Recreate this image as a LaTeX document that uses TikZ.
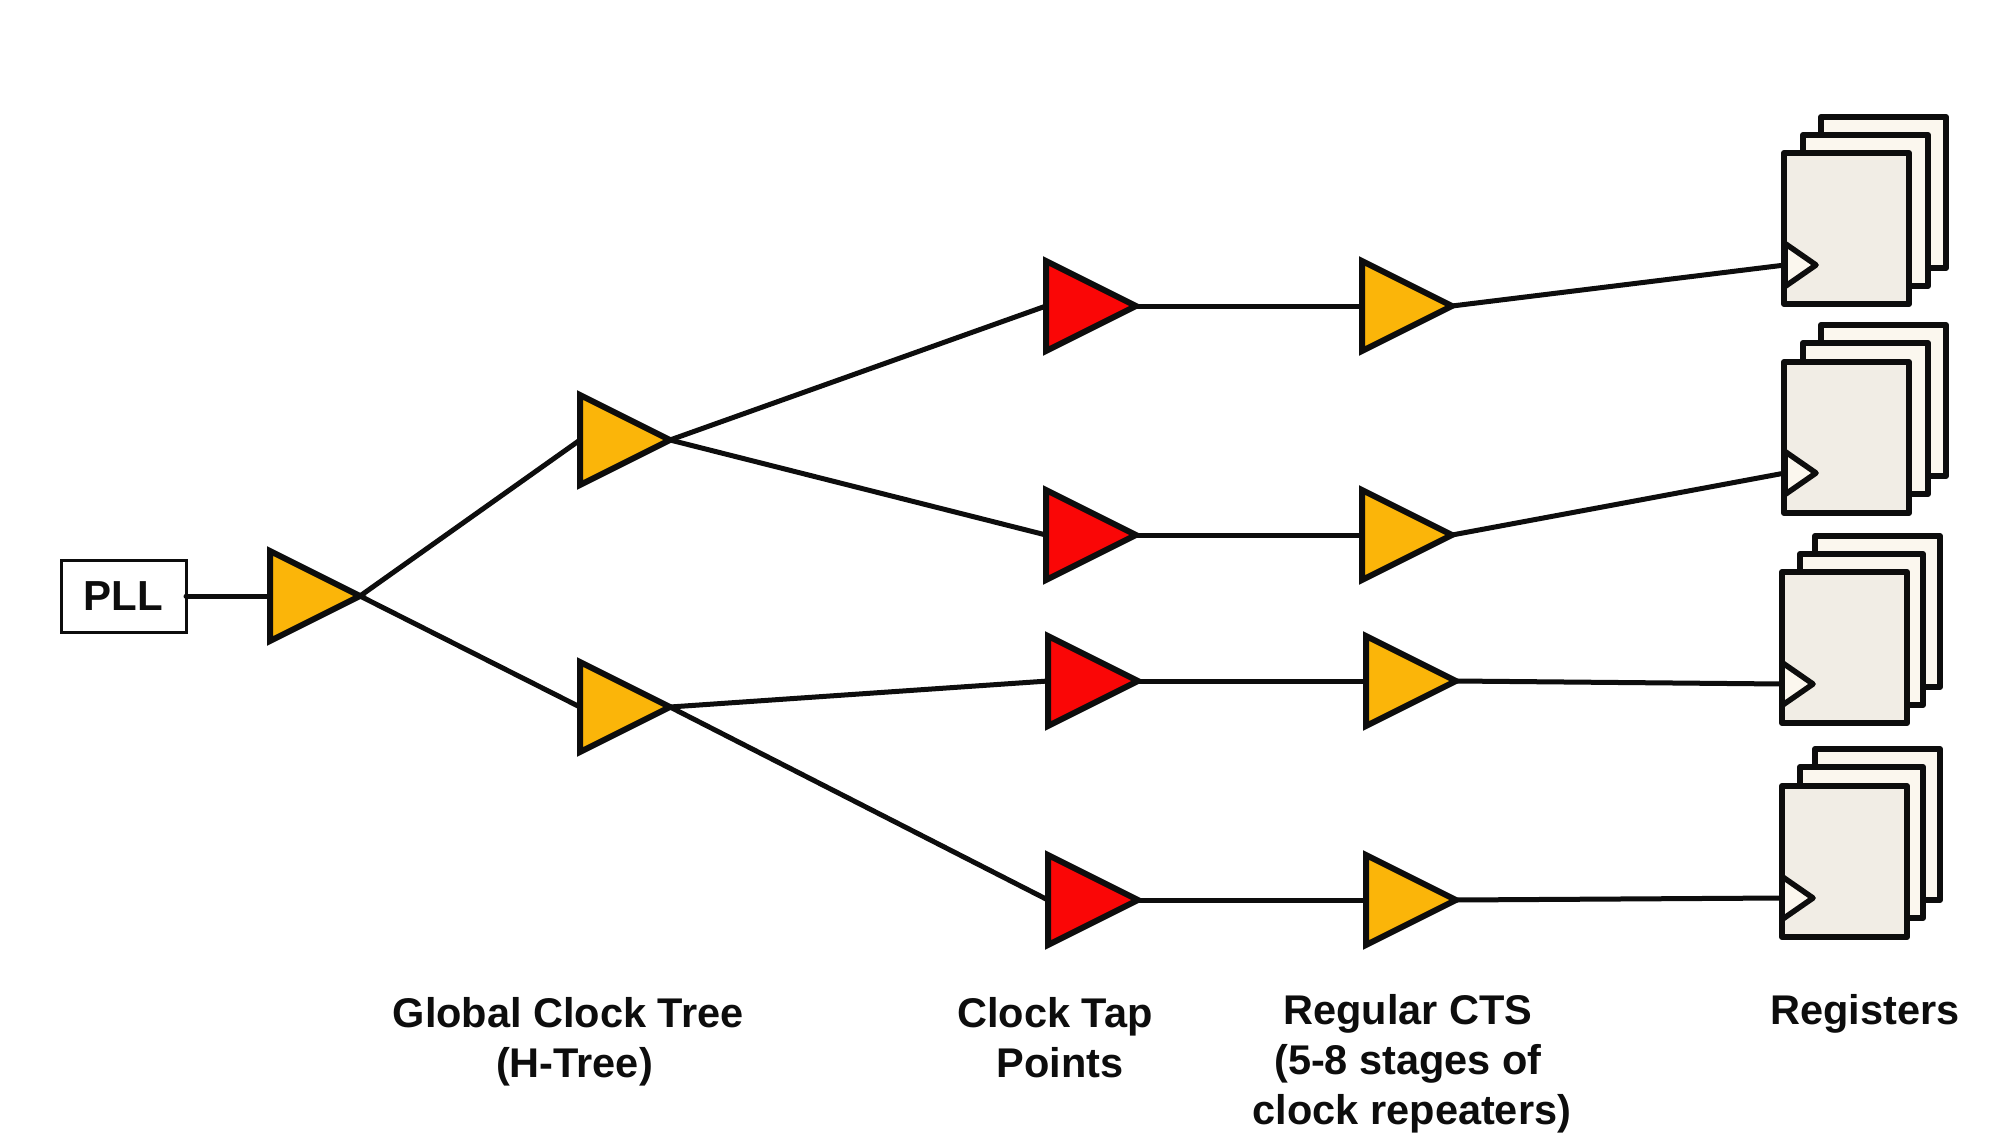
\documentclass[tikz,border=0pt]{standalone}
\usepackage{fontspec}
\setmainfont{Liberation Sans}
\usetikzlibrary{shapes.geometric}
\definecolor{amber}{HTML}{FBB509}
\definecolor{tapred}{HTML}{FA0606}
\definecolor{regfront}{HTML}{F1EDE5}
\definecolor{regback}{HTML}{FBF7EE}
\definecolor{ink}{HTML}{0D0D0D}
\tikzset{
  buf/.style={draw=ink,line width=6pt,shape=isosceles triangle,isosceles triangle apex angle=53,
    isosceles triangle stretches,minimum width=90pt,minimum height=90pt,inner sep=0pt,outer sep=0pt,anchor=apex,line join=miter},
  ambuf/.style={buf,fill=amber},
  redbuf/.style={buf,fill=tapred},
  regbox/.style={draw=ink,line width=6pt,rectangle,minimum width=125pt,minimum height=151pt,inner sep=0pt,outer sep=0pt,anchor=north west,line join=round},
  regfr/.style={regbox,fill=regfront},
  regbk/.style={regbox,fill=regback},
  clk/.style={draw=ink,line width=5.5pt,fill=regback,shape=isosceles triangle,isosceles triangle apex angle=76,
    isosceles triangle stretches,minimum width=43pt,minimum height=31pt,inner sep=0pt,outer sep=0pt,anchor=apex,line join=round},
  wire/.style={draw=ink,line width=5pt,line cap=round},
  lab/.style={font=\fontsize{41.5}{50}\selectfont\bfseries,align=center,text=ink,anchor=center,inner sep=0pt},
}
\begin{document}
\begin{tikzpicture}[x=1pt,y=-1pt]
\useasboundingbox (0,0) rectangle (2016,1148);
\fill[white] (0,0) rectangle (2016,1148);
% PLL
\node[draw=ink,line width=3pt,minimum width=125pt,minimum height=72pt,inner sep=0pt,outer sep=0pt,font=\fontsize{42}{50}\selectfont\bfseries,text=ink] (pll) at (123.5,596) {PLL};
% buffers
\node[ambuf] (b0) at (360,596) {};
\node[ambuf] (b1) at (670,440) {};
\node[ambuf] (b2) at (670,707) {};
\node[redbuf] (r1) at (1136,306) {};
\node[redbuf] (r2) at (1136,535) {};
\node[redbuf] (r3) at (1138,681) {};
\node[redbuf] (r4) at (1138,900) {};
\node[ambuf] (a1) at (1452,306) {};
\node[ambuf] (a2) at (1452,535) {};
\node[ambuf] (a3) at (1456,681) {};
\node[ambuf] (a4) at (1456,900) {};
% registers
\node[regbk] (g1c) at (1821,117) {};
\node[regbk] (g1b) at (1803,135) {};
\node[regfr] (g1a) at (1784,153) {};
\node[clk] (c1) at (1816,265) {};
\node[regbk] (g2c) at (1821,325) {};
\node[regbk] (g2b) at (1803,343) {};
\node[regfr] (g2a) at (1784,362) {};
\node[clk] (c2) at (1816,473) {};
\node[regbk] (g3c) at (1815,536) {};
\node[regbk,minimum width=123pt] (g3b) at (1800,554) {};
\node[regfr] (g3a) at (1782,572) {};
\node[clk] (c3) at (1813,684) {};
\node[regbk] (g4c) at (1815,749) {};
\node[regbk,minimum width=123pt] (g4b) at (1800,767) {};
\node[regfr] (g4a) at (1782,786) {};
\node[clk] (c4) at (1813,898) {};
% connectors
\draw[wire] (pll.east) -- (b0.lower side);
\draw[wire] (b0.apex) -- (b1.lower side);
\draw[wire] (b0.apex) -- (b2.lower side);
\draw[wire] (b1.apex) -- (r1.lower side);
\draw[wire] (b1.apex) -- (r2.lower side);
\draw[wire] (b2.apex) -- (r3.lower side);
\draw[wire] (b2.apex) -- (r4.lower side);
\draw[wire] (r1.apex) -- (a1.lower side);
\draw[wire] (r2.apex) -- (a2.lower side);
\draw[wire] (r3.apex) -- (a3.lower side);
\draw[wire] (r4.apex) -- (a4.lower side);
\draw[wire] (a1.apex) -- (c1.lower side);
\draw[wire] (a2.apex) -- (c2.lower side);
\draw[wire] (a3.apex) -- (c3.lower side);
\draw[wire] (a4.apex) -- (c4.lower side);
% labels
\node[lab] (l1) at (568,1042) {Global Clock Tree\\\hspace*{13pt}(H-Tree)};
\node[lab] (l2) at (1055,1038) {\hspace*{0pt}Clock Tap\\\hspace*{10pt}Points};
\node[lab] (l3) at (1408,1064) {Regular CTS\\(5-8 stages of\\\hspace*{8pt}clock repeaters)};
\node[lab] (l4) at (1865,1014) {Registers};
\end{tikzpicture}
\end{document}
